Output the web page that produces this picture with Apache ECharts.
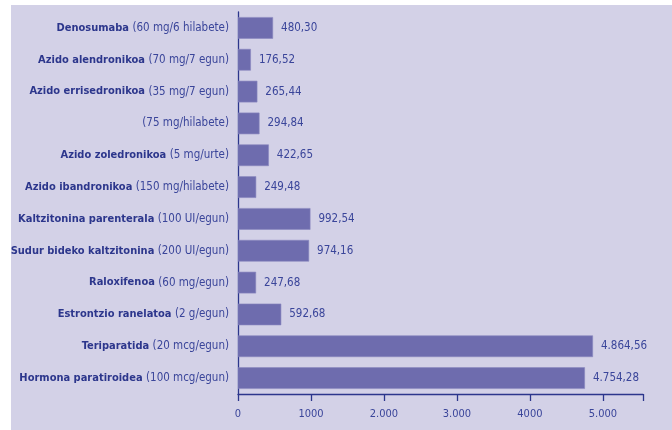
<!DOCTYPE html>
<html>
<head>
  <meta charset="utf-8">
  <title>Kostua</title>
  <script src="https://cdn.jsdelivr.net/npm/echarts@6/dist/echarts.min.js"></script>
  <style>
    html, body { margin: 0; padding: 0; background: #fff; }
    #chart-container { width: 672px; height: 430px; }
  </style>
</head>
<body>
<div id="chart-container"></div>

<script>
  // datuak
  var names = [
    'Denosumaba', 'Azido alendronikoa', 'Azido errisedronikoa', '',
    'Azido zoledronikoa', 'Azido ibandronikoa', 'Kaltzitonina parenterala',
    'Sudur bideko kaltzitonina', 'Raloxifenoa', 'Estrontzio ranelatoa',
    'Teriparatida', 'Hormona paratiroidea'
  ];
  var doses = [
    '(60 mg/6 hilabete)', '(70 mg/7 egun)', '(35 mg/7 egun)', '(75 mg/hilabete)',
    '(5 mg/urte)', '(150 mg/hilabete)', '(100 UI/egun)',
    '(200 UI/egun)', '(60 mg/egun)', '(2 g/egun)',
    '(20 mcg/egun)', '(100 mcg/egun)'
  ];
  var values = [480.30, 176.52, 265.44, 294.84, 422.65, 249.48, 992.54, 974.16, 247.68, 592.68, 4864.56, 4754.28];
  var valueLabels = ['480,30', '176,52', '265,44', '294,84', '422,65', '249,48', '992,54', '974,16', '247,68', '592,68', '4.864,56', '4.754,28'];
  var tickValues = [0, 1000, 2000, 3000, 4000, 5000];
  var tickLabels = ['0', '1000', '2.000', '3.000', '4000', '5.000'];

  var navy = '#2c368c';
  var font = '"DejaVu Sans Condensed", "Liberation Sans Narrow", sans-serif';

  var categories = names.map(function (n, i) { return n + '|' + i; });

  var myChart = echarts.init(document.getElementById('chart-container'));

  myChart.setOption({
    animation: false,
    backgroundColor: '#ffffff',
    textStyle: { fontFamily: font },
    graphic: [{
      type: 'rect',
      z: -10,
      shape: { x: 11, y: 5, width: 661, height: 425 },
      style: { fill: '#d3d1e7' }
    }],
    grid: { left: 238, right: 29, top: 12, bottom: 36, outerBoundsMode: 'none', containLabel: false },
    xAxis: {
      type: 'value',
      min: 0,
      max: 5550,
      interval: 1000,
      splitLine: { show: false },
      axisLine: { show: true, lineStyle: { color: navy, width: 1.3 } },
      axisTick: { show: true, length: 7, lineStyle: { color: navy, width: 1.3 } },
      axisLabel: {
        color: '#3a459a',
        fontSize: 11,
        margin: 15,
        fontFamily: font,
        formatter: function (v) {
          var k = tickValues.indexOf(v);
          return k >= 0 ? tickLabels[k] : '';
        }
      }
    },
    yAxis: {
      type: 'category',
      inverse: true,
      data: categories,
      axisLine: { show: true, onZero: false, lineStyle: { color: navy, width: 1.3 } },
      axisTick: { show: false },
      axisLabel: {
        margin: 9,
        fontFamily: font,
        formatter: function (v) {
          var i = +v.split('|')[1];
          return (names[i] ? '{b|' + names[i] + '} ' : '') + '{n|' + doses[i] + '}';
        },
        rich: {
          b: { color: navy, fontWeight: 'bold', fontSize: 11, fontFamily: font },
          n: { color: '#3a459a', fontSize: 11.5, fontFamily: font }
        }
      }
    },
    series: [{
      type: 'bar',
      data: values,
      barCategoryGap: '32%',
      itemStyle: { color: '#6e6cae', borderColor: '#8a88c0', borderWidth: 0.6 },
      label: {
        show: true,
        position: 'right',
        distance: 8,
        color: '#3a459a',
        fontSize: 11.5,
        fontFamily: font,
        formatter: function (p) { return valueLabels[p.dataIndex]; }
      }
    }]
  });
</script>
</body>
</html>
